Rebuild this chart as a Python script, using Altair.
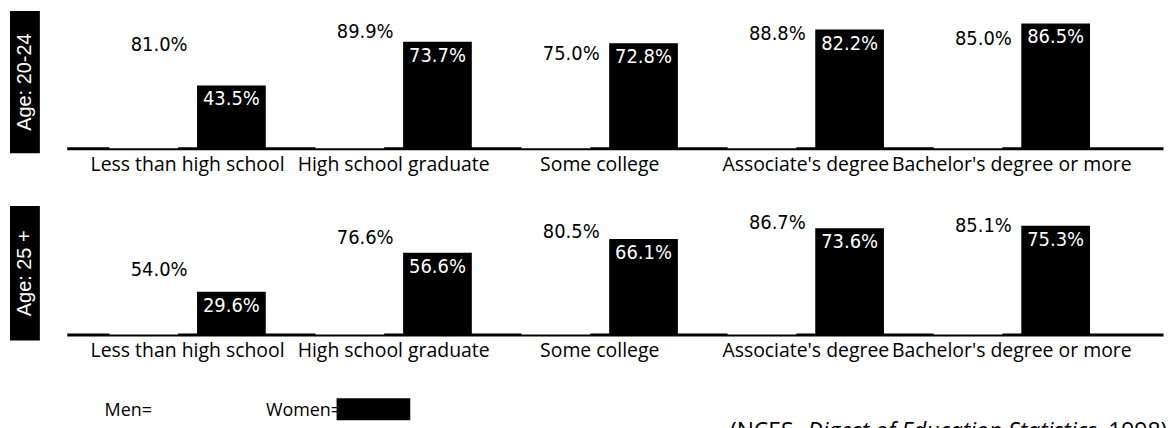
import altair as alt
import pandas as pd

# ---- data ----
categories = ["Less than high school", "High school graduate", "Some college",
              "Associate's degree", "Bachelor's degree or more"]
men_20_24 = [81.0, 89.9, 75.0, 88.8, 85.0]
women_20_24 = [43.5, 73.7, 72.8, 82.2, 86.5]
men_25_plus = [54.0, 76.6, 80.5, 86.7, 85.1]
women_25_plus = [29.6, 56.6, 66.1, 73.6, 75.3]
age_groups = ["Age: 20-24", "Age: 25 +"]
legend_labels = ["Men=", "Women="]
source_parts = ["(NCES, ", "Digest of Education Statistics", ", 1998)"]

LABEL_FONT = "Open Sans"
NUM_FONT = "DejaVu Sans Condensed, Liberation Sans Narrow, Liberation Sans"
PLOT_W = 1101
PLOT_H = 140
BAR_W = 69
OFF = 44


def row_chart(men, women, age, box_y, box_y2, extra=None):
    df = pd.DataFrame({
        "category": categories,
        "men": men,
        "women": women,
        "men_label": [f"{v:.1f}%" for v in men],
        "women_label": [f"{v:.1f}%" for v in women],
    })
    xenc = alt.X("category:N", sort=categories, title=None,
                 scale=alt.Scale(paddingInner=0, paddingOuter=0.16, align=0.27),
                 axis=alt.Axis(labelAngle=0, ticks=False, grid=False, domain=True,
                               domainColor="black", domainWidth=3,
                               labelFont=LABEL_FONT, labelFontSize=19.5, labelLimit=0,
                               labelColor="black", labelPadding=7))
    yscale = alt.Scale(domain=[0, 96.5], nice=False, zero=True)
    base = alt.Chart(df)
    men_bars = base.mark_bar(width=BAR_W, xOffset=-OFF, color="white").encode(
        x=xenc, y=alt.Y("men:Q", scale=yscale, axis=None))
    women_bars = base.mark_bar(width=BAR_W, xOffset=OFF, color="black").encode(
        x=xenc, y=alt.Y("women:Q", scale=yscale, axis=None))
    men_text = base.mark_text(align="right", baseline="middle", dy=14,
                              font=NUM_FONT, fontSize=20, color="black").encode(
        x=xenc, y=alt.Y("men:Q", scale=yscale, axis=None), text="men_label:N")
    women_text = base.mark_text(align="center", baseline="top", dy=4, xOffset=OFF,
                                font=NUM_FONT, fontSize=20, color="white").encode(
        x=xenc, y=alt.Y("women:Q", scale=yscale, axis=None), text="women_label:N")

    age_df = pd.DataFrame({"age": [age]})
    box = alt.Chart(age_df).mark_rect(color="black").encode(
        x=alt.value(-57), x2=alt.value(-27), y=alt.value(box_y), y2=alt.value(box_y2))
    box_text = alt.Chart(age_df).mark_text(angle=270, color="white", font="Liberation Sans",
                                           fontSize=20, align="center", baseline="middle").encode(
        x=alt.value(-42), y=alt.value((box_y + box_y2) / 2), text="age:N")
    layers = [men_bars, women_bars, men_text, women_text, box, box_text]
    if extra:
        layers += extra
    return alt.layer(*layers).properties(width=PLOT_W, height=PLOT_H)


def free_text(txt, x, y, size=18, style="normal"):
    return alt.Chart(pd.DataFrame({"t": [txt]})).mark_text(
        align="left", baseline="alphabetic", font=LABEL_FONT, fontSize=size,
        fontStyle=style, color="black").encode(
        x=alt.value(x), y=alt.value(y), text="t:N")


legend_text = free_text(legend_labels[0], 38, 222)
legend_text2 = free_text(legend_labels[1], 200, 222)
legend_box = alt.Chart(pd.DataFrame({"label": [legend_labels[1]]})).mark_rect(color="black").encode(
    x=alt.value(271), x2=alt.value(345), y=alt.value(204), y2=alt.value(226))
src1 = free_text(source_parts[0], 666, 245, size=23)
src2 = free_text(source_parts[1], 744, 245, size=23, style="italic")
src3 = free_text(source_parts[2], 1034, 245, size=23)

row1 = row_chart(men_20_24, women_20_24, age_groups[0], 2, 145)
row2 = row_chart(men_25_plus, women_25_plus, age_groups[1], 11, 146,
                 extra=[legend_text, legend_text2, legend_box, src1, src2, src3])

chart = alt.vconcat(row1, row2, spacing=21).properties(
    padding={"left": 2, "top": 0, "right": 0, "bottom": 0}
).configure(background="white").configure_view(strokeWidth=0, stroke=None)

chart.save("out.html", embed_options={"renderer": "svg", "actions": False})
